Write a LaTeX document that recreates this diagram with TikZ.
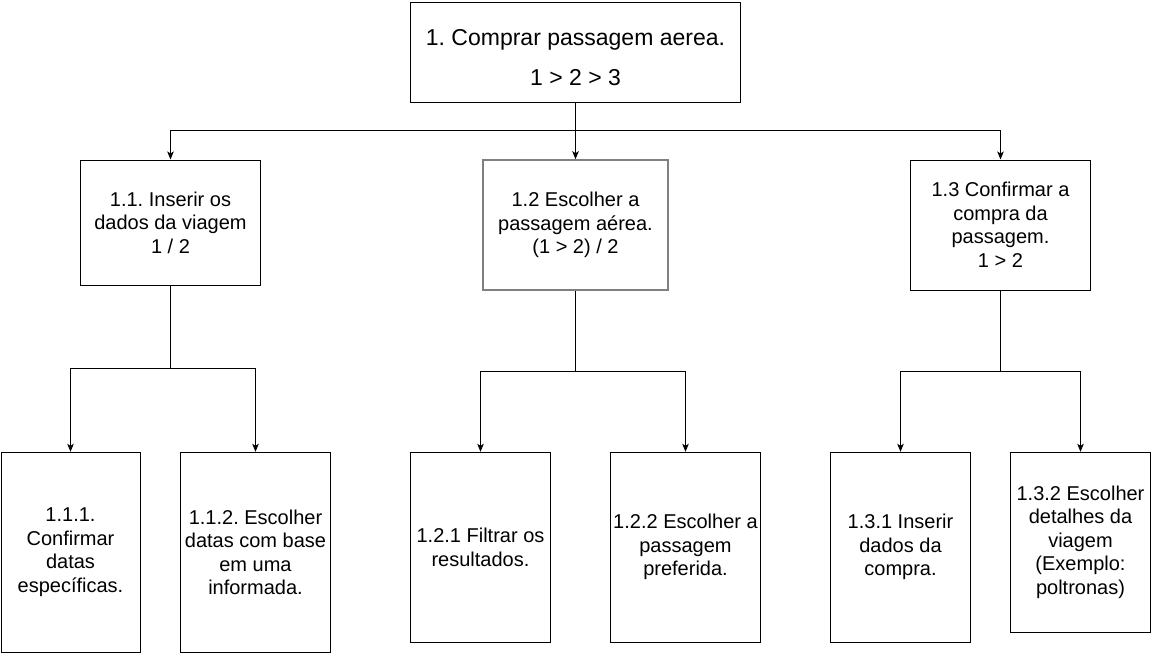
\documentclass[tikz,border=0pt]{standalone}
\usepackage{fontspec}
\setmainfont{Liberation Sans}
\usetikzlibrary{arrows.meta}
\frenchspacing
\begin{document}
\frenchspacing
\begin{tikzpicture}[x=1pt,y=-1pt,
  box/.style={draw=black, line width=1pt, inner sep=0pt, align=center, fill=white,
    font=\fontsize{20}{23.5}\selectfont\frenchspacing},
  graybox/.style={box, draw=black!50, line width=1.6pt},
  arr/.style={-{Stealth[length=8pt,width=6.5pt,inset=2pt]}, line width=1pt},
  ln/.style={line width=1pt}]
\useasboundingbox[fill=white] (0,0) rectangle (1151,653);

% top
\node[box, minimum width=330pt, minimum height=100pt,
  font=\fontsize{23}{27.6}\selectfont\frenchspacing] (n1) at (575.5,52)
  {\rule{0pt}{27.5pt}1. Comprar passagem aerea.\\[12.4pt]1 > 2 > 3};

% level 1
\node[box, minimum width=180pt, minimum height=125pt] (n11) at (170.5,222.5)
  {1.1. Inserir os\\dados da viagem\\1 / 2};
\node[graybox, minimum width=185pt, minimum height=130pt] (n12) at (575.5,225)
  {1.2 Escolher a\\passagem aérea.\\(1 > 2) / 2};
\node[box, minimum width=180pt, minimum height=130pt] (n13) at (1000.5,225)
  {1.3 Confirmar a\\compra da\\passagem.\\1 > 2};

% level 2
\node[box, minimum width=139pt, minimum height=200pt] (n111) at (70.5,552.3)
  {1.1.1.\\Confirmar\\datas\\específicas.};
\node[box, minimum width=150pt, minimum height=200pt] (n112) at (255.5,552.3)
  {1.1.2. Escolher\\datas com base\\em uma\\informada.};
\node[box, minimum width=140pt, minimum height=190pt] (n121) at (480.5,547.3)
  {1.2.1 Filtrar os\\resultados.};
\node[box, minimum width=150pt, minimum height=190pt] (n122) at (685.5,547.3)
  {1.2.2 Escolher a\\passagem\\preferida.};
\node[box, minimum width=140pt, minimum height=190pt] (n131) at (900.5,547.3)
  {1.3.1 Inserir\\dados da\\compra.};
\node[box, minimum width=140pt, minimum height=180pt] (n132) at (1080.5,542.3)
  {1.3.2 Escolher\\detalhes da\\viagem\\(Exemplo:\\poltronas)};

% connectors
\coordinate (j1) at (575.5,130.5);
\draw[ln] (n1.south) -- (j1);
\draw[arr] (j1) -| (n11.north);
\draw[arr] (j1) -- (n12.north);
\draw[arr] (j1) -| (n13.north);

\coordinate (j11) at (170.5,368.5);
\draw[ln] (n11.south) -- (j11);
\draw[arr] (j11) -| (n111.north);
\draw[arr] (j11) -| (n112.north);

\coordinate (j12) at (575.5,371);
\draw[ln] (n12.south) -- (j12);
\draw[arr] (j12) -| (n121.north);
\draw[arr] (j12) -| (n122.north);

\coordinate (j13) at (1000.5,371);
\draw[ln] (n13.south) -- (j13);
\draw[arr] (j13) -| (n131.north);
\draw[arr] (j13) -| (n132.north);
\end{tikzpicture}
\end{document}
